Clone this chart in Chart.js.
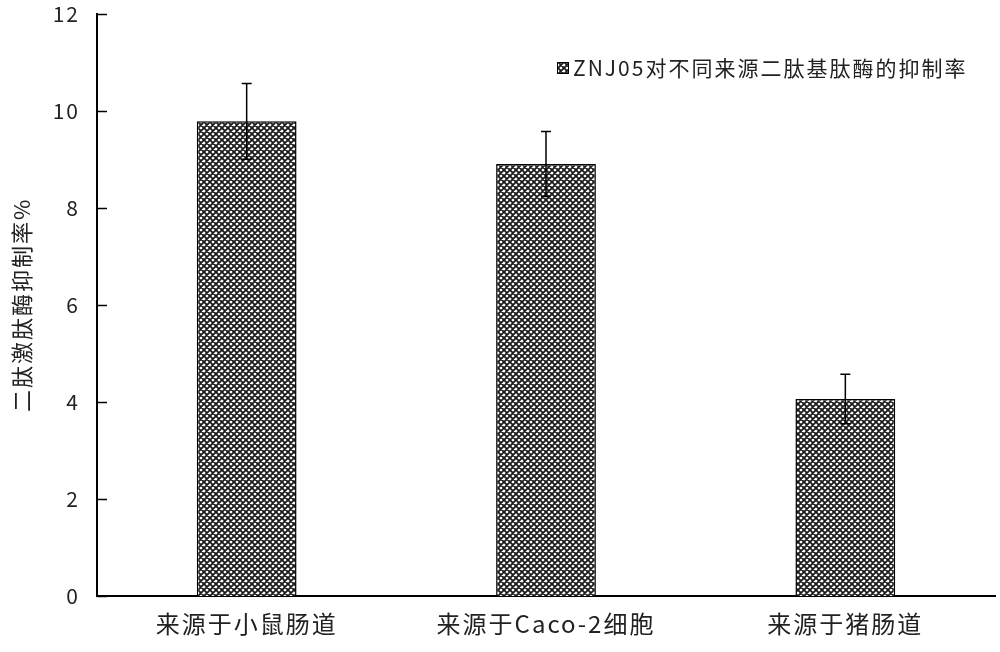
<!DOCTYPE html>
<html>
<head>
  <meta charset="utf-8">
  <title>ZNJ05 inhibition</title>
  <script src="https://cdn.jsdelivr.net/npm/chart.js"></script>
  <style>
    body { margin: 0; background: #fff; }
    /* chart.js keeps half a label of room above the top tick; shift it up */
    #wrap { width: 1000px; height: 652px; overflow: hidden; }
    #inner { width: 1000px; height: 668px; margin-top: -16px; }
  </style>
</head>
<body>
  <div id="wrap"><div id="inner"><canvas id="c"></canvas></div></div>
  <script>
    // data
    const categories = ["来源于小鼠肠道", "来源于Caco-2细胞", "来源于猪肠道"];
    const values = [9.78, 8.90, 4.06];
    const errors = [0.78, 0.67, 0.51];
    const yTicks = [0, 2, 4, 6, 8, 10, 12];
    const seriesName = "ZNJ05对不同来源二肽基肽酶的抑制率";
    const yTitle = "二肽激肽酶抑制率%";

    const FONT = '"Noto Sans CJK SC", "Noto Sans", sans-serif';

    // crosshatch fill: dark diagonal grid with small white holes
    function makePattern() {
      const t = document.createElement("canvas");
      t.width = 6; t.height = 6;
      const g = t.getContext("2d");
      g.fillStyle = "#fff";
      g.fillRect(0, 0, 6, 6);
      g.strokeStyle = "#1a1a1a";
      g.lineWidth = 1.8;
      g.beginPath();
      g.moveTo(-1, -1); g.lineTo(7, 7);
      g.moveTo(-1, 7); g.lineTo(7, -1);
      g.moveTo(-4, 2); g.lineTo(2, -4);
      g.moveTo(4, 10); g.lineTo(10, 4);
      g.moveTo(-4, 4); g.lineTo(2, 10);
      g.moveTo(4, -4); g.lineTo(10, 2);
      g.stroke();
      return document.getElementById("c").getContext("2d").createPattern(t, "repeat");
    }
    const pattern = makePattern();

    // the original's lettering is wide; spread the glyphs a little
    const spacing = {
      id: "spacing",
      beforeDraw(chart) { chart.ctx.letterSpacing = "2px"; },
      afterDraw(chart) { chart.ctx.letterSpacing = "0px"; }
    };

    // error bars, inner y ticks and the legend box
    const extras = {
      id: "extras",
      afterDatasetsDraw(chart) {
        const ctx = chart.ctx;
        const x = chart.scales.x, y = chart.scales.y;
        const area = chart.chartArea;
        ctx.save();
        ctx.strokeStyle = "#000";
        ctx.lineWidth = 1.5;
        values.forEach((v, i) => {
          const cx = x.getPixelForValue(i);
          const top = y.getPixelForValue(v + errors[i]);
          const bot = y.getPixelForValue(v - errors[i]);
          ctx.beginPath();
          ctx.moveTo(cx, top); ctx.lineTo(cx, bot);
          ctx.moveTo(cx - 5, top); ctx.lineTo(cx + 5, top);
          ctx.moveTo(cx - 5, bot); ctx.lineTo(cx + 5, bot);
          ctx.stroke();
        });
        // tick marks pointing into the plot
        yTicks.forEach(t => {
          const py = Math.round(y.getPixelForValue(t)) + 0.5;
          ctx.beginPath();
          ctx.moveTo(area.left, py); ctx.lineTo(area.left + 10, py);
          ctx.stroke();
        });
        // legend
        const lx = 557, ly = 78;
        ctx.fillStyle = pattern;
        ctx.fillRect(lx, ly, 12, 12);
        ctx.lineWidth = 1;
        ctx.strokeRect(lx + 0.5, ly + 0.5, 11, 11);
        ctx.fillStyle = "#222";
        ctx.font = "21px " + FONT;
        ctx.letterSpacing = "2px";
        ctx.textBaseline = "middle";
        ctx.fillText(seriesName, lx + 16, ly + 6);
        ctx.restore();
      }
    };

    new Chart(document.getElementById("c"), {
      type: "bar",
      data: {
        labels: categories,
        datasets: [{
          label: seriesName,
          data: values,
          backgroundColor: pattern,
          borderColor: "#000",
          borderWidth: 1.5,
          categoryPercentage: 1,
          barPercentage: 1 / 3
        }]
      },
      options: {
        responsive: true,
        maintainAspectRatio: false,
        animation: false,
        layout: { padding: { top: 0, right: 5, left: 8, bottom: 0 } },
        plugins: { legend: { display: false }, tooltip: { enabled: false } },
        scales: {
          x: {
            grid: { display: false, drawTicks: false },
            border: { color: "#000", width: 2 },
            ticks: { color: "#222", font: { family: FONT, size: 24 }, padding: 13 },
            afterFit(s) { s.height = 56; }
          },
          y: {
            min: 0, max: 12,
            afterBuildTicks(s) { s.ticks = yTicks.map(v => ({ value: v })); },
            grid: { display: false, drawTicks: false },
            border: { color: "#000", width: 2 },
            ticks: { color: "#222", font: { family: FONT, size: 21 }, padding: 17 },
            title: {
              display: true, text: yTitle, color: "#222",
              font: { family: FONT, size: 22 }, padding: { top: 0, bottom: 2 }
            },
            afterFit(s) { s.width = 89; }
          }
        }
      },
      plugins: [spacing, extras]
    });
  </script>
</body>
</html>
